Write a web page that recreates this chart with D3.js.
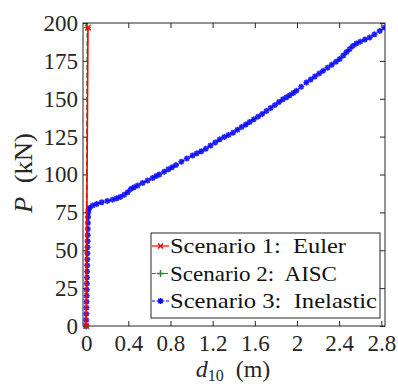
<!DOCTYPE html>
<html>
<head>
<meta charset="utf-8">
<script src="https://cdn.jsdelivr.net/npm/d3@7"></script>
<style>
  body { margin: 0; background: #fff; }
</style>
</head>
<body>
<div id="chart"></div>
<script>
// tick values
var xTicks = [0, 0.4, 0.8, 1.2, 1.6, 2, 2.4, 2.8];
var yTicks = [0, 25, 50, 75, 100, 125, 150, 175, 200];

// series names
var seriesNames = ["Scenario 1:  Euler", "Scenario 2:  AISC", "Scenario 3:  Inelastic"];

// Scenario 1: Euler  [d10 (m), P (kN)]
var euler = [[0, 0], [0.017, 197]];

// Scenario 2: AISC
var aisc = [[0, 0], [0.011, 197]];

// Scenario 3: Inelastic
var inelastic = [
  [0, 0], [0.001, 4], [0.002, 8], [0.003, 12], [0.004, 16], [0.005, 20], [0.006, 24],
  [0.007, 28], [0.008, 32], [0.009, 36], [0.010, 40], [0.011, 44], [0.012, 48],
  [0.013, 52], [0.014, 56], [0.015, 60], [0.016, 64], [0.017, 68], [0.018, 72],
  [0.019, 75], [0.022, 77], [0.03, 77.9],
  [0.062, 79.5], [0.10, 80.5], [0.147, 81.7], [0.20, 82.5], [0.251, 83.4],
  [0.29, 84.3], [0.324, 85.2], [0.36, 86.6], [0.394, 88.3], [0.425, 90.5],
  [0.455, 91.6], [0.489, 92.7], [0.535, 94.4], [0.583, 96.0], [0.63, 97.7],
  [0.665, 99.0], [0.694, 100.0], [0.74, 101.8], [0.78, 103.4], [0.815, 104.8],
  [0.852, 106.2], [0.903, 108.4], [0.955, 110.5], [1.010, 112.6], [1.050, 114.0],
  [1.093, 115.4], [1.135, 117.0], [1.18, 119.2], [1.225, 121.2], [1.267, 123.2],
  [1.31, 124.7], [1.35, 126.1], [1.393, 127.6], [1.435, 129.5], [1.475, 131.3],
  [1.515, 133.0], [1.551, 134.6], [1.59, 136.4], [1.63, 138.2], [1.67, 140.0],
  [1.710, 141.9], [1.75, 143.9], [1.79, 145.8], [1.83, 147.8], [1.867, 149.7],
  [1.90, 151.0], [1.931, 152.3], [1.965, 153.8], [1.994, 155.2], [2.04, 157.9],
  [2.089, 160.7], [2.13, 162.7], [2.17, 164.7], [2.21, 166.6], [2.247, 168.4],
  [2.29, 170.5], [2.33, 172.5], [2.37, 174.4], [2.405, 176.2], [2.44, 178.6],
  [2.47, 180.8], [2.50, 182.8], [2.53, 184.9], [2.563, 186.5], [2.60, 187.7],
  [2.645, 189.1], [2.690, 190.5], [2.735, 192.5], [2.785, 194.8], [2.835, 197.0]
];

var chart_width = 398, chart_height = 384;
var plotLeft = 83, plotRight = 385, plotTop = 23, plotBottom = 326;
var serif = "'Liberation Serif', serif";

var svg = d3.select("#chart").append("svg")
    .attr("width", chart_width)
    .attr("height", chart_height)
    .style("font-family", serif);

var x = d3.scaleLinear().domain([-0.03, 2.835]).range([plotLeft, plotRight]);
var y = d3.scaleLinear().domain([0, 200]).range([plotBottom, plotTop]);

var fmt = function(d) { return d3.format("~g")(d); };
var axisColor = "#262626";

// clip
svg.append("clipPath").attr("id", "plot-clip")
  .append("rect")
    .attr("x", plotLeft).attr("y", plotTop - 6)
    .attr("width", plotRight - plotLeft).attr("height", plotBottom - plotTop + 12);

// axes (ticks inside, box on)
function styleAxis(g) {
  g.attr("font-family", null).attr("font-size", null);
  g.select(".domain").remove();
  g.selectAll(".tick line").attr("stroke", axisColor).attr("stroke-width", 1);
  g.selectAll(".tick text")
      .style("font-family", serif)
      .style("font-size", "23px")
      .attr("fill", axisColor);
}

svg.append("g")
    .attr("transform", "translate(0," + plotBottom + ")")
    .call(d3.axisBottom(x).tickValues(xTicks).tickFormat(fmt).tickSizeInner(-5).tickSizeOuter(0).tickPadding(9))
    .call(styleAxis);

svg.append("g")
    .attr("transform", "translate(0," + plotTop + ")")
    .call(d3.axisTop(x).tickValues(xTicks).tickFormat("").tickSizeInner(-5).tickSizeOuter(0))
    .call(styleAxis);

svg.append("g")
    .attr("transform", "translate(" + plotLeft + ",0)")
    .call(d3.axisLeft(y).tickValues(yTicks).tickFormat(fmt).tickSizeInner(-5).tickSizeOuter(0).tickPadding(5))
    .call(styleAxis);

svg.append("g")
    .attr("transform", "translate(" + plotRight + ",0)")
    .call(d3.axisRight(y).tickValues(yTicks).tickFormat("").tickSizeInner(-5).tickSizeOuter(0))
    .call(styleAxis);

svg.append("rect")
    .attr("x", plotLeft).attr("y", plotTop)
    .attr("width", plotRight - plotLeft).attr("height", plotBottom - plotTop)
    .attr("fill", "none").attr("stroke", axisColor).attr("stroke-width", 1);

// marker shapes
function crossPath(s) { return "M" + (-s) + "," + (-s) + "L" + s + "," + s + "M" + (-s) + "," + s + "L" + s + "," + (-s); }
function plusPath(s) { return "M" + (-s) + ",0L" + s + ",0M0," + (-s) + "L0," + s; }
function starPath(s) { return plusPath(s) + crossPath(s * 0.72); }

var line = d3.line().x(function(d) { return x(d[0]); }).y(function(d) { return y(d[1]); });

var series = [
  { data: inelastic, color: "#0000ff", dash: "5,2,1.5,2", marker: starPath(3), width: 1.2 },
  { data: aisc, color: "#1e8a1e", dash: "5,3", marker: plusPath(3.5), width: 1.5 },
  { data: euler, color: "#ff0000", dash: null, marker: crossPath(2.8), width: 1.6 }
];

var plot = svg.append("g").attr("clip-path", "url(#plot-clip)");

series.forEach(function(s) {
  plot.append("path")
      .datum(s.data)
      .attr("d", line)
      .attr("fill", "none")
      .attr("stroke", s.color)
      .attr("stroke-width", s.width)
      .attr("stroke-dasharray", s.dash);
  plot.selectAll(null)
      .data(s.data)
      .enter()
      .append("path")
      .attr("transform", function(d) { return "translate(" + x(d[0]) + "," + y(d[1]) + ")"; })
      .attr("d", s.marker)
      .attr("fill", "none")
      .attr("stroke", s.color)
      .attr("stroke-width", 1.6)
      .attr("stroke-opacity", 0.85);
});

// legend
var legend = svg.append("g");
legend.append("rect")
    .attr("x", 151).attr("y", 233)
    .attr("width", 229).attr("height", 85)
    .attr("fill", "#fff").attr("stroke", axisColor).attr("stroke-width", 1);

var legendItems = [
  { name: seriesNames[0], color: "#ff0000", dash: null, marker: crossPath(2.5) },
  { name: seriesNames[1], color: "#1e8a1e", dash: "4,2", marker: plusPath(3.5) },
  { name: seriesNames[2], color: "#0000ff", dash: "3,1.5,1,1.5", marker: starPath(3) }
];
var textLens = [176, 167, 207];

legendItems.forEach(function(it, i) {
  var cy = 246 + i * 27.5;
  legend.append("line")
      .attr("x1", 152).attr("x2", 169).attr("y1", cy).attr("y2", cy)
      .attr("stroke", it.color).attr("stroke-width", 1.2)
      .attr("stroke-dasharray", it.dash);
  legend.append("path")
      .attr("transform", "translate(160.5," + cy + ")")
      .attr("d", it.marker)
      .attr("fill", "none").attr("stroke", it.color).attr("stroke-width", 1.4);
  legend.append("text")
      .attr("x", 170).attr("y", cy + 7)
      .attr("textLength", textLens[i])
      .attr("lengthAdjust", "spacingAndGlyphs")
      .style("font-family", serif)
      .style("font-size", "21px")
      .attr("fill", "#111")
      .attr("xml:space", "preserve")
      .text(it.name);
});

// axis labels
var yl = svg.append("text")
    .attr("transform", "translate(32," + 173 + ") rotate(-90)")
    .attr("text-anchor", "middle")
    .attr("textLength", 80)
    .attr("lengthAdjust", "spacingAndGlyphs")
    .style("font-family", serif)
    .style("font-size", "25px")
    .attr("fill", axisColor);
yl.append("tspan").style("font-style", "italic").text("P");
yl.append("tspan").attr("xml:space", "preserve").text("  (kN)");

var xl = svg.append("text")
    .attr("x", 233).attr("y", 377)
    .attr("text-anchor", "middle")
    .style("font-family", serif)
    .style("font-size", "24px")
    .attr("fill", axisColor);
xl.append("tspan").style("font-style", "italic").text("d");
xl.append("tspan").attr("dy", 4).style("font-size", "16px").text("10");
xl.append("tspan").attr("dy", -4).attr("xml:space", "preserve").text("  (m)");
</script>
</body>
</html>
